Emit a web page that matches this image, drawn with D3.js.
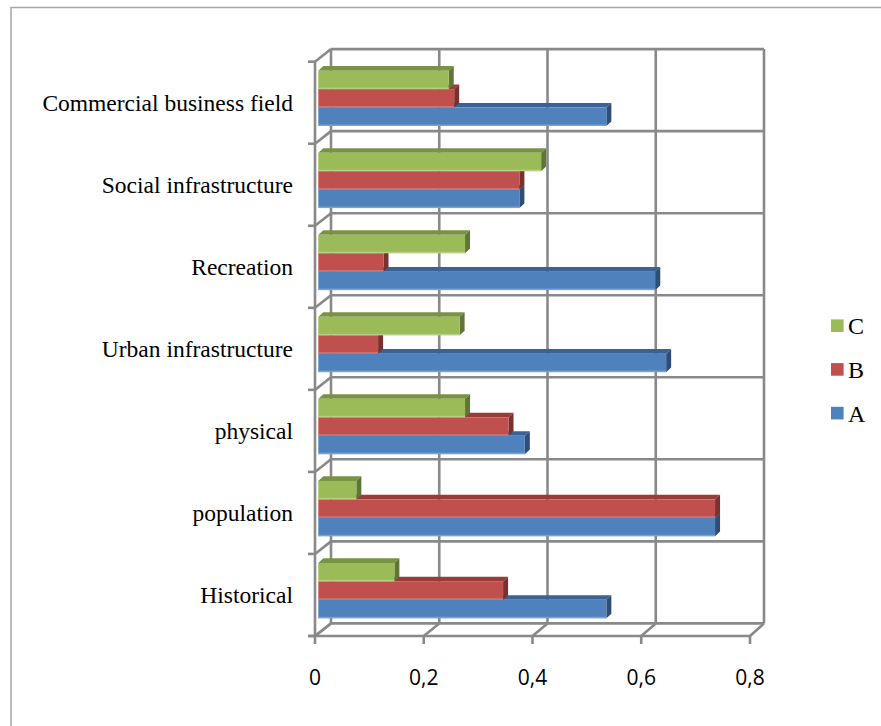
<!DOCTYPE html>
<html>
<head>
<meta charset="utf-8">
<script src="https://cdn.jsdelivr.net/npm/d3@7"></script>
<style>
  html, body { margin: 0; padding: 0; background: #fff; }
  svg { display: block; }
</style>
</head>
<body>
<svg id="chart" width="881" height="726"></svg>
<script>
// Categories, bottom to top
const categories = [
  "Historical",
  "population",
  "physical",
  "Urban infrastructure",
  "Recreation",
  "Social infrastructure",
  "Commercial business field"
];
const seriesNames = ["A", "B", "C"];
const valuesA = [0.53, 0.73, 0.38, 0.64, 0.62, 0.37, 0.53];
const valuesB = [0.34, 0.73, 0.35, 0.11, 0.12, 0.37, 0.25];
const valuesC = [0.14, 0.07, 0.27, 0.26, 0.27, 0.41, 0.24];
const xTicks = [0, 0.2, 0.4, 0.6, 0.8];

const colors = {
  A: { front: "#4F81BD", top: "#3A6294", side: "#2E4E77", light: "#8FB0DA" },
  B: { front: "#C0504D", top: "#963D3A", side: "#7A302E", light: "#D98886" },
  C: { front: "#9BBB59", top: "#789343", side: "#5F7634", light: "#C0D796" }
};
const seriesValues = { A: valuesA, B: valuesB, C: valuesC };

const svg = d3.select("#chart");
const gridColor = "#898989";

// Outer chart frame
svg.append("path")
  .attr("d", "M11,726 L11,7.5 L881,7.5")
  .attr("fill", "none")
  .attr("stroke", "#a6a6a6")
  .attr("stroke-width", 1.5);

// 3D box geometry: front plane and back wall offset
const depth = { dx: 15.7, dy: -12.6 };
const xFront = d3.scaleLinear().domain([0, 0.8]).range([315, 750]);
const xBack = d3.scaleLinear().domain([0, 0.8]).range([331, 764]);
const xBar = d3.scaleLinear().domain([0, 0.8]).range([318.3, 753.1]);
const yFront = d3.scaleBand().domain(categories).range([636, 61.7]).padding(0);
const barBand = d3.scaleBand().domain(["C", "B", "A"]).range([9, 64.3]).padding(0);

const grid = svg.append("g").attr("fill", "none").attr("stroke", gridColor).attr("stroke-width", 2.6);

const backTop = yFront.range()[1] + depth.dy;
const backBottom = yFront.range()[0] + depth.dy;

// Back wall vertical gridlines
xTicks.forEach(t => {
  grid.append("line")
    .attr("x1", xBack(t)).attr("x2", xBack(t))
    .attr("y1", backTop).attr("y2", backBottom);
});
// Back wall horizontal gridlines at category boundaries
const boundaries = categories.map(c => yFront(c)).concat([yFront.range()[0]]);
boundaries.forEach(y => {
  grid.append("line")
    .attr("x1", xBack(0)).attr("x2", xBack(0.8))
    .attr("y1", y + depth.dy).attr("y2", y + depth.dy);
});

// Left wall: front edge, boundary diagonals and ticks
grid.append("line")
  .attr("x1", xFront(0)).attr("x2", xFront(0))
  .attr("y1", yFront.range()[1]).attr("y2", yFront.range()[0]);
boundaries.forEach(y => {
  grid.append("line")
    .attr("x1", xFront(0)).attr("y1", y)
    .attr("x2", xBack(0)).attr("y2", y + depth.dy);
  grid.append("line")
    .attr("x1", xFront(0) - 7).attr("x2", xFront(0))
    .attr("y1", y).attr("y2", y);
});

// Floor: front axis line, tick diagonals and ticks
grid.append("line")
  .attr("x1", xFront(0) - 7).attr("x2", xFront(0.8))
  .attr("y1", yFront.range()[0]).attr("y2", yFront.range()[0]);
xTicks.forEach(t => {
  grid.append("line")
    .attr("x1", xFront(t)).attr("y1", yFront.range()[0])
    .attr("x2", xBack(t)).attr("y2", yFront.range()[0] + depth.dy);
  grid.append("line")
    .attr("x1", xFront(t)).attr("x2", xFront(t))
    .attr("y1", yFront.range()[0]).attr("y2", yFront.range()[0] + 8);
});

// 3D bars
const bd = { dx: 5, dy: -4.6 };
const bars = svg.append("g");
categories.forEach((cat, i) => {
  ["A", "B", "C"].forEach(s => {
    const v = seriesValues[s][i];
    const x0 = xBar(0), x1 = xBar(v);
    const y = yFront(cat) + barBand(s);
    const h = barBand.bandwidth();
    const c = colors[s];
    const g = bars.append("g");
    g.append("polygon")
      .attr("points", [[x0, y], [x0 + bd.dx, y + bd.dy], [x1 + bd.dx, y + bd.dy], [x1, y]].join(" "))
      .attr("fill", c.top);
    g.append("polygon")
      .attr("points", [[x1, y], [x1 + bd.dx, y + bd.dy], [x1 + bd.dx, y + h + bd.dy], [x1, y + h]].join(" "))
      .attr("fill", c.side);
    g.append("rect")
      .attr("x", x0).attr("y", y)
      .attr("width", x1 - x0).attr("height", h)
      .attr("fill", c.front);
    g.append("rect")
      .attr("x", x0).attr("y", y + h - 1.5)
      .attr("width", x1 - x0).attr("height", 1.5)
      .attr("fill", c.light).attr("opacity", 0.7);
  });
});

// Category labels
svg.append("g")
  .selectAll("text")
  .data(categories)
  .join("text")
  .attr("x", 293)
  .attr("y", d => yFront(d) + yFront.bandwidth() / 2)
  .attr("dy", "0.35em")
  .attr("text-anchor", "end")
  .attr("font-family", "'Liberation Serif', 'Times New Roman', serif")
  .attr("font-size", 23.5)
  .attr("fill", "#000")
  .text(d => d);

// Value axis labels
const fmt = d => d3.format(".1f")(d).replace(".", ",");
svg.append("g")
  .selectAll("text")
  .data(xTicks)
  .join("text")
  .attr("x", d => xFront(d))
  .attr("y", 685)
  .attr("text-anchor", "middle")
  .attr("font-family", "'Open Sans', 'Liberation Sans', sans-serif")
  .attr("font-size", 21)
  .attr("fill", "#000")
  .text(d => d === 0 ? "0" : fmt(d));

// Legend
const legendOrder = ["C", "B", "A"];
const legend = svg.append("g");
legendOrder.forEach((s, i) => {
  const cy = 325.7 + i * 43.7;
  legend.append("rect")
    .attr("x", 831).attr("y", cy - 6.3)
    .attr("width", 12.6).attr("height", 12.6)
    .attr("fill", colors[s].front);
  legend.append("text")
    .attr("x", 848).attr("y", cy)
    .attr("dy", "0.35em")
    .attr("font-family", "'Liberation Serif', 'Times New Roman', serif")
    .attr("font-size", 24)
    .attr("fill", "#000")
    .text(s);
});
</script>
</body>
</html>
